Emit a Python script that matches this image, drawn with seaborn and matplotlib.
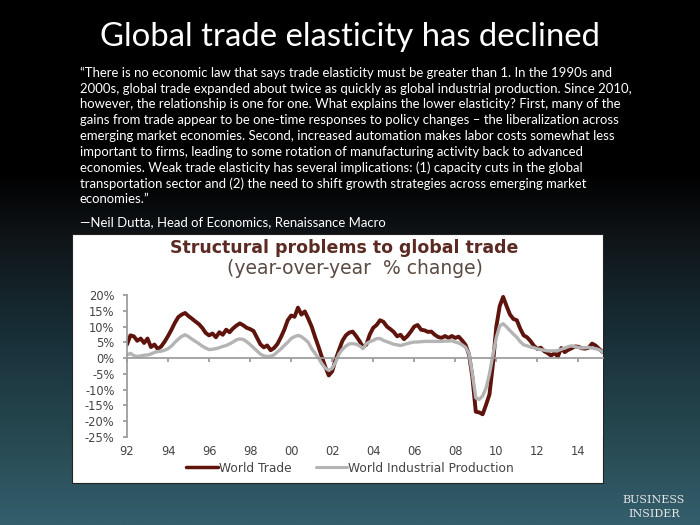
import numpy as np
import pandas as pd
import matplotlib
matplotlib.use('Agg')
import matplotlib.pyplot as plt
import seaborn as sns
from matplotlib.patches import Rectangle
from matplotlib.colors import LinearSegmentedColormap
from matplotlib.lines import Line2D

# bi-monthly y/y % change (Jan 1992 .. Mar 2015)
world_trade = [4.3, 7.2, 6.9, 5.5, 6.2, 4.8,      # 1992
               6.2, 3.5, 4.3, 2.9, 3.7, 5.2,      # 1993
               7.0, 9.0, 11.2, 13.0, 13.8, 14.3,  # 1994
               13.3, 12.5, 11.6, 10.8, 9.6, 8.0,  # 1995
               7.2, 7.8, 6.6, 8.2, 7.4, 9.0,      # 1996
               8.2, 9.4, 10.3, 11.0, 10.4, 9.6,   # 1997
               9.2, 8.6, 6.5, 4.4, 3.4, 4.0,      # 1998
               2.5, 3.2, 4.5, 6.6, 9.0, 12.0,     # 1999
               13.5, 13.1, 16.0, 13.8, 14.8, 12.5,  # 2000
               10.0, 6.7, 3.6, 0.3, -2.8, -5.5,   # 2001
               -4.2, -0.5, 2.6, 5.5, 7.2, 8.1,    # 2002
               8.4, 7.0, 5.4, 3.5, 4.3, 7.5,      # 2003
               9.6, 10.5, 12.0, 11.5, 10.0, 9.2,  # 2004
               8.3, 6.9, 7.4, 6.0, 7.0, 8.4,      # 2005
               10.0, 10.5, 9.0, 8.8, 8.3, 8.4,    # 2006
               7.4, 6.7, 6.4, 7.0, 6.4, 7.0,      # 2007
               6.4, 6.8, 5.6, 4.2, 1.2, -6.0,     # 2008
               -17.0, -17.2, -17.8, -14.8, -11.5, -2.0,  # 2009
               10.0, 16.5, 19.4, 16.5, 13.8, 12.4,  # 2010
               12.0, 9.3, 7.2, 6.6, 5.4, 3.9,     # 2011
               2.9, 3.3, 2.2, 1.6, 0.8, 1.6,      # 2012
               0.5, 3.2, 1.9, 2.6, 3.1, 3.7,      # 2013
               3.6, 3.1, 3.0, 3.3, 4.6, 4.0,      # 2014
               3.0, 2.0]                          # 2015
world_ip = [1.0, 1.5, 0.8, 0.5, 0.7, 0.9,
            1.0, 1.3, 1.8, 2.1, 2.2, 2.5,
            3.0, 3.8, 5.0, 6.0, 6.9, 7.4,
            6.8, 6.0, 5.3, 4.6, 3.8, 3.2,
            2.7, 2.8, 3.0, 3.3, 3.7, 4.0,
            4.5, 5.1, 5.8, 6.1, 5.9, 5.2,
            4.3, 3.3, 2.3, 1.3, 0.7, 0.5,
            0.6, 1.0, 2.0, 2.9, 4.0, 5.0,
            6.2, 6.8, 7.2, 6.8, 6.0, 5.0,
            3.0, 1.5, 0.0, -1.8, -3.2, -3.9,
            -3.2, -1.3, 1.3, 2.8, 3.8, 4.5,
            4.6, 4.4, 3.9, 3.0, 4.6, 5.2,
            5.6, 6.2, 6.2, 5.6, 5.2, 4.8,
            4.4, 4.2, 4.0, 4.3, 4.6, 4.9,
            5.1, 5.1, 5.2, 5.3, 5.3, 5.3,
            5.3, 5.3, 5.3, 5.4, 5.4, 5.5,
            5.1, 4.8, 4.2, 3.4, 1.5, -5.0,
            -12.6, -13.1, -12.0, -9.5, -5.0, 1.0,
            6.5, 10.2, 10.9, 9.9, 8.7, 7.6,
            6.6, 5.2, 4.2, 3.9, 3.5, 3.3,
            2.9, 2.7, 2.5, 2.3, 2.3, 2.3,
            2.4, 2.8, 3.2, 3.6, 3.9, 3.6,
            3.4, 3.2, 3.3, 3.4, 3.2, 3.0,
            2.7, 2.0]
x_tick_years = list(range(1992, 2015, 2))
y_ticks = [-25, -20, -15, -10, -5, 0, 5, 10, 15, 20]

title = 'Global trade elasticity has declined'
quote_lines = [
    '\u201cThere is no economic law that says trade elasticity must be greater than 1. In the 1990s and',
    '2000s, global trade expanded about twice as quickly as global industrial production. Since 2010,',
    'however, the relationship is one for one. What explains the lower elasticity? First, many of the',
    'gains from trade appear to be one-time responses to policy changes \u2013 the liberalization across',
    'emerging market economies. Second, increased automation makes labor costs somewhat less',
    'important to firms, leading to some rotation of manufacturing activity back to advanced',
    'economies. Weak trade elasticity has several implications: (1) capacity cuts in the global',
    'transportation sector and (2) the need to shift growth strategies across emerging market',
    'economies.\u201d',
]
source = '\u2014Neil Dutta, Head of Economics, Renaissance Macro'

dates = pd.date_range('1992-01-01', periods=len(world_trade), freq='2MS')
df = pd.DataFrame({
    'year': dates.year + (dates.month - 1) / 12,
    'World Trade': world_trade,
    'World Industrial Production': world_ip,
})

sns.set_theme(style='white')
plt.rcParams['font.family'] = ['DejaVu Sans']

W, H = 700, 525
fig = plt.figure(figsize=(7, 5.25), dpi=100)

# slide background gradient
bg = fig.add_axes([0, 0, 1, 1], zorder=-10)
cmap = LinearSegmentedColormap.from_list('slide', [
    (0.0, '#000000'), (0.33, '#000000'), (0.45, '#0f1417'),
    (0.64, '#182f38'), (0.83, '#264850'), (1.0, '#345f6d')])
bg.imshow(np.linspace(0, 1, 256).reshape(-1, 1), cmap=cmap, aspect='auto',
          extent=[0, 1, 0, 1], origin='upper')
bg.set_axis_off()

# white chart panel
fig.patches.append(Rectangle((72 / W, 1 - 483 / H), 531 / W, 249 / H,
                             transform=fig.transFigure, facecolor='white',
                             edgecolor='#222222', lw=0.8, zorder=-5))

fig.text(0.5, 1 - 37 / H, title, ha='center', va='center', color='white',
         fontsize=23.7, family='Lato')
for i, line in enumerate(quote_lines):
    fig.text(80 / W, 1 - (73 + i * 15.75) / H, line, ha='left', va='center',
             color='white', fontsize=9.45, family='Lato')
fig.text(80 / W, 1 - 222 / H, source, ha='left', va='center', color='white',
         fontsize=9.45, family='Lato')

fig.text(344 / W, 1 - 248 / H, 'Structural problems to global trade',
         ha='center', va='center', color='#5b2a22', fontsize=12.5,
         fontweight='bold')
fig.text(355 / W, 1 - 268 / H, '(year-over-year  % change)', ha='center',
         va='center', color='#5a4a42', fontsize=13.5)

ax = fig.add_axes([127 / W, 1 - 437 / H, 476 / W, 142 / H])
ax.set_facecolor('white')
sns.lineplot(data=df, x='year', y='World Trade', ax=ax, color='#5e140c',
             lw=2.8, label='World Trade', legend=False)
sns.lineplot(data=df, x='year', y='World Industrial Production', ax=ax,
             color='#b4b4b4', lw=2.4, label='World Industrial Production',
             legend=False)
ax.set_xlim(1992, 2015.2)
ax.set_ylim(-25, 20)
ax.set_xlabel('')
ax.set_ylabel('')

for s in ['top', 'right']:
    ax.spines[s].set_visible(False)
ax.spines['left'].set_color('#9a9a9a')
ax.spines['bottom'].set_position(('data', 0))
ax.spines['bottom'].set_color('#9a9a9a')
ax.set_xticks(x_tick_years)
ax.tick_params(axis='x', bottom=True, length=3, color='#9a9a9a',
               labelbottom=False)
ax.set_yticks(y_ticks)
ax.set_yticklabels([f'{v}%' for v in y_ticks])
ax.tick_params(axis='y', left=True, length=3, color='#9a9a9a',
               labelsize=8.3, labelcolor='#444444', pad=6)

sec = ax.secondary_xaxis(0)
sec.set_xticks(x_tick_years)
sec.set_xticklabels([f'{y % 100:02d}' for y in x_tick_years])
sec.tick_params(length=0, labelsize=8.3, labelcolor='#444444', pad=6)
sec.spines['bottom'].set_visible(False)

handles = [Line2D([], [], color='#5e140c', lw=2.5),
           Line2D([], [], color='#b4b4b4', lw=2.2)]
fig.legend(handles, ['World Trade', 'World Industrial Production'],
           loc='center', bbox_to_anchor=(350 / W, 1 - 468 / H), ncol=2,
           frameon=False, fontsize=8.8, handlelength=2.6, handletextpad=0.05,
           columnspacing=2.0, labelcolor='#444444')

fig.text(654 / W, 1 - 500 / H, 'BUSINESS', ha='center', va='center',
         color='#e6e6e6', fontsize=8, family='DejaVu Serif')
fig.text(654 / W, 1 - 514 / H, 'INSIDER', ha='center', va='center',
         color='#e6e6e6', fontsize=8, family='DejaVu Serif')

fig.savefig('out.png', dpi=100)
